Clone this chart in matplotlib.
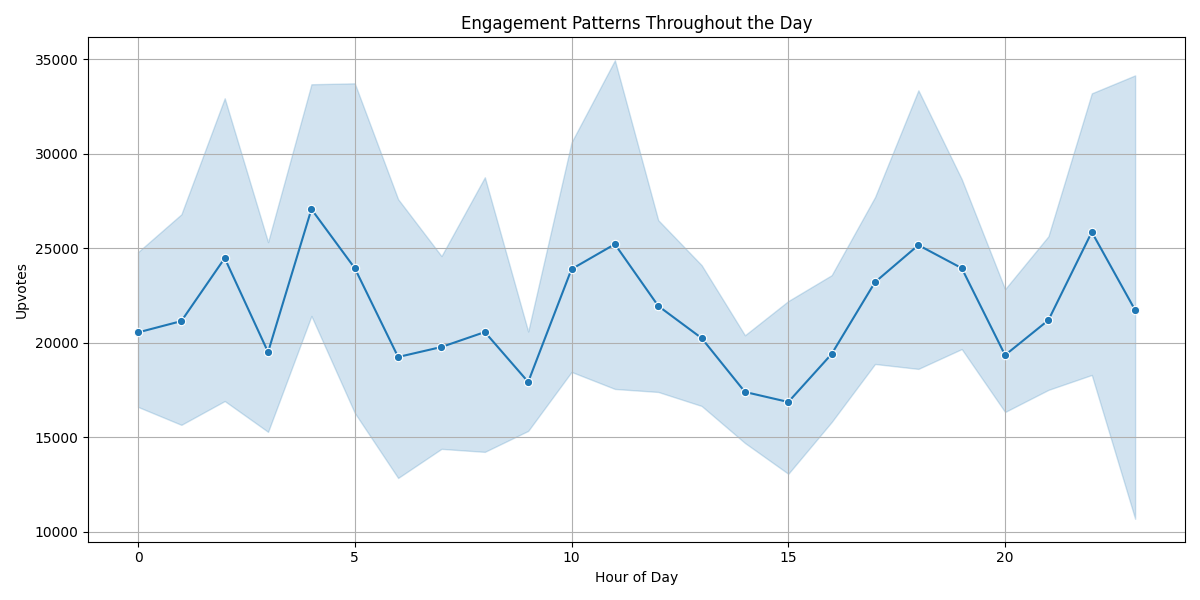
import numpy as np
import matplotlib
matplotlib.use("Agg")
import matplotlib.pyplot as plt

hours = list(range(24))
mean_upvotes = [20550, 21150, 24480, 19510, 27070, 23950, 19250, 19780, 20570, 17930,
                23900, 25220, 21950, 20250, 17400, 16870, 19410, 23210, 25170, 23950,
                19350, 21200, 25860, 21730]
ci_upper = [24800, 26800, 32940, 25330, 33680, 33730, 27600, 24590, 28760, 20600,
            30610, 34950, 26490, 24110, 20400, 22210, 23580, 27710, 33360, 28660,
            22840, 25640, 33200, 34150]
ci_lower = [16610, 15660, 16920, 15290, 21420, 16290, 12850, 14390, 14230, 15340,
            18460, 17560, 17400, 16660, 14700, 13070, 15810, 18880, 18620, 19670,
            16340, 17510, 18300, 10690]

fig, ax = plt.subplots(figsize=(12, 6), dpi=100)
ax.fill_between(hours, ci_lower, ci_upper, color="#1f77b4", alpha=0.2, linewidth=1)
ax.plot(hours, mean_upvotes, color="#1f77b4", marker="o", markersize=6,
        markeredgecolor="white", markeredgewidth=0.8)
ax.set_title("Engagement Patterns Throughout the Day")
ax.set_xlabel("Hour of Day")
ax.set_ylabel("Upvotes")
ax.grid(True)
plt.tight_layout()
plt.savefig("out.png")
